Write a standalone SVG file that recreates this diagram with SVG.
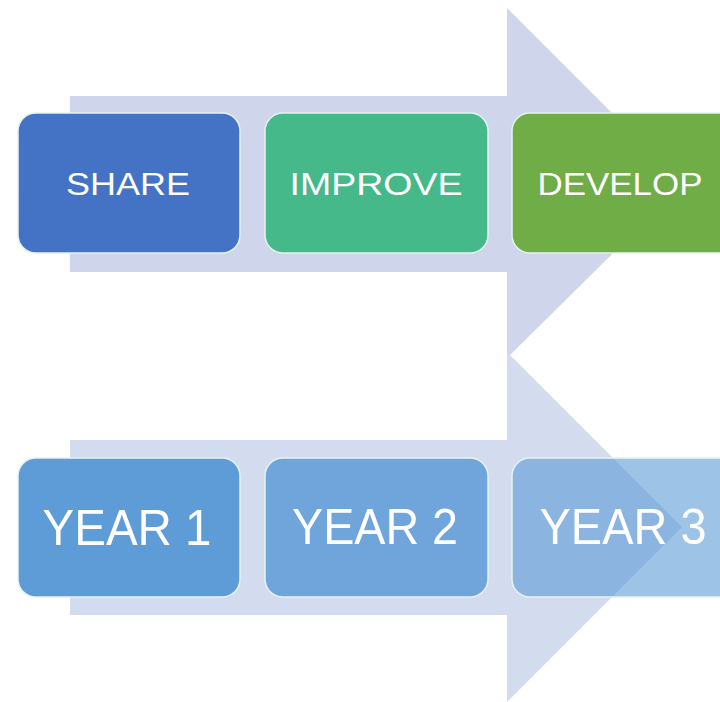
<svg xmlns="http://www.w3.org/2000/svg" width="720" height="702" viewBox="0 0 720 702">
<style>
.box{stroke:#e4f3ee;stroke-width:1.5}
.lbl{font-family:"Liberation Sans",Arial,sans-serif;fill:#ffffff;text-anchor:middle}
.top{font-size:32px}
.bot{font-size:50px}
</style>
<rect width="720" height="702" fill="#ffffff"/>
<g id="connectors">
<path id="arrow-top" d="M70,96 H507 V8 L683,184 L507,358 V272 H70 Z" fill="#cfd5ea"/>
<path id="arrow-bottom" d="M70,440 H507 V352 L682,527 L507,702 V615 H70 Z" fill="#d3dcef"/>
</g>
<g id="share">
<rect class="box" x="18" y="113" width="222" height="140" rx="18" fill="#4472c4"/>
<text class="lbl top" x="128" y="195" textLength="124" lengthAdjust="spacingAndGlyphs">SHARE</text>
</g>
<g id="improve">
<rect class="box" x="265" y="113" width="223" height="140" rx="18" fill="#45b98a"/>
<text class="lbl top" x="376" y="195" textLength="173" lengthAdjust="spacingAndGlyphs">IMPROVE</text>
</g>
<g id="develop">
<rect class="box" x="512" y="113" width="226" height="140" rx="18" fill="#70ad47"/>
<text class="lbl top" x="620" y="195" textLength="165" lengthAdjust="spacingAndGlyphs">DEVELOP</text>
</g>
<g id="year1">
<rect class="box" x="18" y="458" width="222" height="139" rx="18" fill="#5e9cd7" stroke="#cfe2f4"/>
<text class="lbl bot" x="127" y="545" textLength="169" lengthAdjust="spacingAndGlyphs">YEAR 1</text>
</g>
<g id="year2">
<rect class="box" x="265" y="458" width="223" height="139" rx="18" fill="#6fa5db" stroke="#cfe2f4"/>
<text class="lbl bot" x="375" y="544" textLength="166" lengthAdjust="spacingAndGlyphs">YEAR 2</text>
</g>
<g id="year3">
<rect class="box" x="512" y="458" width="226" height="139" rx="18" fill="#5b9bd5" fill-opacity="0.6" stroke="#cfe2f4"/>
<text class="lbl bot" x="623" y="544" textLength="167" lengthAdjust="spacingAndGlyphs">YEAR 3</text>
</g>
</svg>
